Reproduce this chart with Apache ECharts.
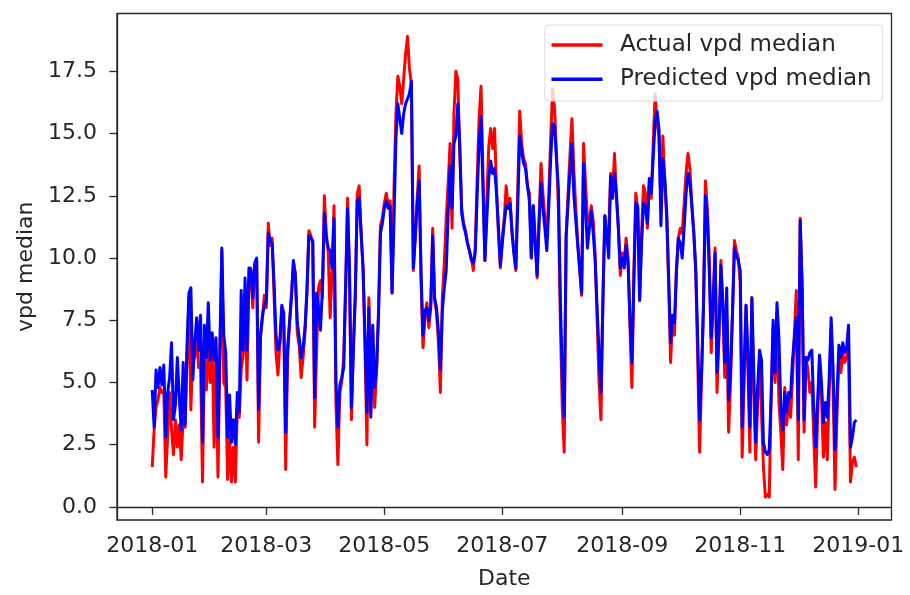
<!DOCTYPE html>
<html><head><meta charset="utf-8">
<script src="https://cdn.jsdelivr.net/npm/echarts@6/dist/echarts.min.js"></script>
<style>html,body{margin:0;padding:0;background:#fff}#c{width:910px;height:595px}</style>
</head><body><div id="c"></div>
<script>
const startDate = '2018-01-01';
const seriesNames = ['Actual vpd median', 'Predicted vpd median'];
const actual = [
1.6,3.1,4.0,4.3,4.8,4.6,4.7,1.2,2.9,4.6,3.1,2.1,3.5,2.4,3.3,1.9,3.6,3.2,6.0,8.4,3.9,6.4,6.0,7.2,5.6,5.7,1.0,5.9,4.7,6.5,5.0,
6.7,2.4,6.3,1.2,6.0,10.3,5.0,4.8,1.1,2.9,1.0,2.4,1.0,4.0,3.6,5.5,6.1,8.5,5.1,9.0,9.6,8.0,9.7,9.9,2.6,6.8,7.6,8.5,
8.0,11.4,10.5,10.8,8.5,6.2,5.3,6.6,8.0,7.3,1.5,6.0,7.4,8.6,9.8,9.4,7.0,6.5,5.2,6.0,7.0,8.8,11.1,10.9,10.6,3.2,6.3,8.8,9.1,8.4,12.5,
11.0,10.2,7.6,9.5,12.1,4.1,1.7,4.6,5.0,6.0,8.8,12.4,9.2,3.5,6.6,8.4,12.6,12.9,11.0,9.6,6.4,2.5,8.4,3.8,7.0,4.0,5.5,7.9,11.3,11.6,
12.2,12.6,12.1,12.3,8.6,12.8,15.8,17.3,16.9,16.2,17.2,18.2,18.9,17.6,17.0,9.5,11.0,12.4,13.7,9.0,6.4,7.6,8.2,7.2,8.0,11.2,8.3,7.8,6.6,4.6,8.4,
9.8,11.6,13.0,14.6,11.2,15.8,17.5,17.2,14.2,12.0,11.4,11.1,10.6,10.3,10.0,9.5,10.4,13.2,15.6,16.9,13.4,9.9,12.3,14.5,15.2,14.4,15.2,12.8,11.0,9.6,
10.8,11.6,12.9,12.0,12.4,11.0,10.2,9.5,12.8,15.9,14.6,14.0,13.8,12.9,12.6,10.0,12.1,10.8,9.2,11.6,13.8,12.6,11.6,10.8,12.5,14.8,16.8,16.0,14.2,12.0,7.5,
4.0,2.2,10.9,12.6,14.2,15.6,13.5,12.0,10.6,9.5,8.5,14.6,13.0,11.6,11.4,12.1,11.5,10.1,7.6,5.0,3.5,8.4,11.7,10.6,11.0,13.4,12.6,14.2,12.4,11.2,9.3,
10.2,9.8,10.8,10.0,7.2,4.8,9.4,12.6,12.0,8.3,11.0,12.9,12.6,11.2,13.0,12.4,14.6,16.6,15.4,14.9,12.0,14.9,13.0,11.6,9.0,5.8,7.6,6.9,9.6,10.8,
11.2,11.0,12.2,13.4,14.2,13.6,12.1,11.0,9.4,6.0,2.2,5.2,8.2,13.1,12.0,10.0,6.2,8.4,10.4,4.6,6.8,9.9,8.0,5.2,7.5,3.0,5.0,7.8,10.7,10.3,10.0,
9.0,2.0,5.0,8.1,5.5,2.2,8.4,4.6,1.9,4.2,6.0,3.8,1.6,0.4,0.5,0.4,4.5,7.2,5.0,7.8,4.2,3.0,1.5,4.8,3.3,4.4,3.6,5.1,7.0,8.7,
1.9,11.6,8.9,3.0,6.0,5.5,4.6,5.0,2.8,0.8,3.6,6.0,4.4,2.0,3.4,1.9,4.6,7.2,4.8,0.7,3.6,6.0,5.4,6.2,5.8,6.0,6.5,1.0,1.8,2.0,1.6
];
const predicted = [
4.7,3.2,5.5,4.8,5.6,4.9,5.7,2.8,4.6,5.2,6.6,3.5,4.1,6.0,4.4,3.1,5.8,3.3,6.5,8.6,8.8,5.1,6.6,7.6,6.3,7.7,2.6,7.3,6.0,8.2,5.9,
7.0,5.9,6.8,2.8,6.5,10.4,6.9,6.2,2.8,4.5,2.6,3.5,2.5,4.6,3.8,8.7,6.3,9.2,6.3,9.6,9.5,8.4,9.8,10.0,3.9,6.9,7.7,8.1,
8.3,11.0,10.7,10.6,9.0,6.9,6.3,6.6,8.1,7.8,3.0,6.4,7.4,8.4,9.9,9.3,7.4,6.8,6.0,6.4,7.2,8.6,10.9,10.8,10.7,4.4,8.6,8.0,7.1,8.8,11.8,
10.8,10.4,10.3,9.6,11.6,5.0,3.2,4.9,5.2,5.6,8.9,12.0,9.6,4.0,6.2,8.6,12.3,12.4,11.0,9.6,6.9,3.8,8.0,3.6,7.3,4.8,5.6,7.7,11.0,11.4,
12.0,12.3,12.0,12.1,8.6,11.5,14.8,16.2,15.6,15.0,15.8,16.2,16.4,16.6,17.1,9.6,10.8,12.2,13.1,9.4,6.9,7.9,8.0,7.5,8.1,10.9,8.4,8.0,7.0,5.5,7.9,
8.8,9.5,11.8,13.7,12.0,14.6,14.9,16.2,14.6,11.8,11.3,11.0,10.6,10.3,9.9,9.8,10.2,12.5,14.6,15.7,12.8,9.9,11.6,13.2,13.9,13.4,13.6,12.6,11.2,9.7,
10.6,11.4,12.1,12.0,12.2,11.1,10.2,9.6,12.2,14.9,14.3,13.8,13.6,12.9,12.3,10.0,12.1,10.6,9.3,11.4,13.0,12.0,11.2,10.3,12.0,14.0,15.4,15.3,14.0,12.8,8.4,
5.2,3.6,10.9,12.2,13.5,14.6,12.5,11.5,10.5,9.6,8.6,13.8,12.0,10.4,11.2,11.9,11.0,9.9,8.0,6.2,4.6,8.2,11.7,11.0,10.0,13.3,12.4,13.4,12.6,11.2,9.6,
10.0,9.6,10.5,9.8,7.6,5.8,9.0,12.2,12.1,8.3,10.6,12.2,12.0,11.4,13.2,12.6,14.0,15.5,15.9,15.2,11.3,14.0,13.2,11.8,9.2,6.6,7.7,7.4,9.4,10.8,
10.6,10.0,11.2,12.6,13.4,13.0,12.1,11.0,9.6,6.8,3.5,5.4,8.0,12.5,11.6,9.5,6.8,8.2,10.2,5.4,7.0,9.7,8.2,5.8,8.8,4.3,5.5,7.8,10.4,10.1,9.9,
9.5,3.2,5.6,8.1,6.0,3.2,8.4,5.4,2.6,4.8,6.3,5.9,2.6,2.2,2.1,2.3,4.5,7.5,5.4,8.2,6.8,4.0,3.1,4.6,3.8,4.6,4.4,5.9,6.8,7.6,
3.5,11.5,8.9,3.5,6.0,5.9,6.2,6.3,4.0,2.4,4.2,6.1,5.0,3.4,4.2,3.6,5.2,7.6,5.6,2.3,4.4,6.5,6.0,6.6,6.2,6.4,7.3,2.4,2.8,3.4,3.5
];
const xTickLabels = ['2018-01','2018-03','2018-05','2018-07','2018-09','2018-11','2019-01'];
const yTickValues = [0, 2.5, 5, 7.5, 10, 12.5, 15, 17.5];

const DAY = 86400000;
const t0 = Date.parse(startDate + 'T00:00:00Z');
const dates = actual.map((_, i) => t0 + i * DAY);
const xTickValues = xTickLabels.map(s => Date.parse(s + '-01T00:00:00Z'));
const span = dates[dates.length - 1] - dates[0];
const yMinData = 0.4, yMaxData = 18.9;
const FONT = 'DejaVu Sans';
const INK = '#262626';
function fmtDate(v) {
  const d = new Date(v);
  const m = d.getUTCMonth() + 1;
  return d.getUTCFullYear() + '-' + (m < 10 ? '0' + m : m);
}
const chart = echarts.init(document.getElementById('c'), null, {renderer: 'canvas'});
chart.setOption({
  animation: false,
  backgroundColor: '#fff',
  grid: {left: 117, right: 18.5, top: 13.5, bottom: 74.3, show: true, borderColor: INK, borderWidth: 1.3, backgroundColor: 'transparent'},
  legend: {
    data: seriesNames, orient: 'vertical', right: 27.3, top: 25,
    backgroundColor: 'rgba(255,255,255,0.8)', borderColor: '#dcdcdc', borderWidth: 1, borderRadius: 4,
    padding: [8, 11, 9.7, 6.7], itemGap: 10.3, itemWidth: 51, itemHeight: 3.5, icon: 'rect',
    textStyle: {fontSize: 23, fontFamily: FONT, color: INK, padding: [0, 0, 0, 12.6], lineHeight: 24}
  },
  xAxis: {
    type: 'value',
    min: dates[0] - span * 0.05, max: dates[dates.length - 1] + span * 0.05,
    axisLine: {show: true, lineStyle: {color: INK, width: 1.3}},
    axisTick: {show: true, length: 8, customValues: xTickValues, lineStyle: {color: INK, width: 1.3}},
    axisLabel: {customValues: xTickValues, formatter: v => fmtDate(v), fontSize: 22, fontFamily: FONT, color: INK, margin: 15},
    splitLine: {show: false},
    name: 'Date', nameLocation: 'middle', nameGap: 48,
    nameTextStyle: {fontSize: 22, fontFamily: FONT, color: INK}
  },
  yAxis: {
    type: 'value',
    min: yMinData - (yMaxData - yMinData) * 0.05, max: yMaxData + (yMaxData - yMinData) * 0.05,
    axisLine: {show: true, lineStyle: {color: INK, width: 1.3}},
    axisTick: {show: true, length: 7.5, customValues: yTickValues, lineStyle: {color: INK, width: 1.3}},
    axisLabel: {customValues: yTickValues, formatter: v => v.toFixed(1), fontSize: 22, fontFamily: FONT, color: INK, margin: 20},
    splitLine: {show: false},
    name: 'vpd median', nameLocation: 'middle', nameGap: 79, nameRotate: 90,
    nameTextStyle: {fontSize: 22, fontFamily: FONT, color: INK}
  },
  series: [
    {name: seriesNames[0], type: 'line', showSymbol: false, symbol: 'none', color: '#ff0000',
     lineStyle: {width: 3, color: '#ff0000', join: 'round'}, data: dates.map((t, i) => [t, actual[i]])},
    {name: seriesNames[1], type: 'line', showSymbol: false, symbol: 'none', color: '#0000ff',
     lineStyle: {width: 3, color: '#0000ff', join: 'round'}, data: dates.map((t, i) => [t, predicted[i]])}
  ]
});
</script>
</body></html>
